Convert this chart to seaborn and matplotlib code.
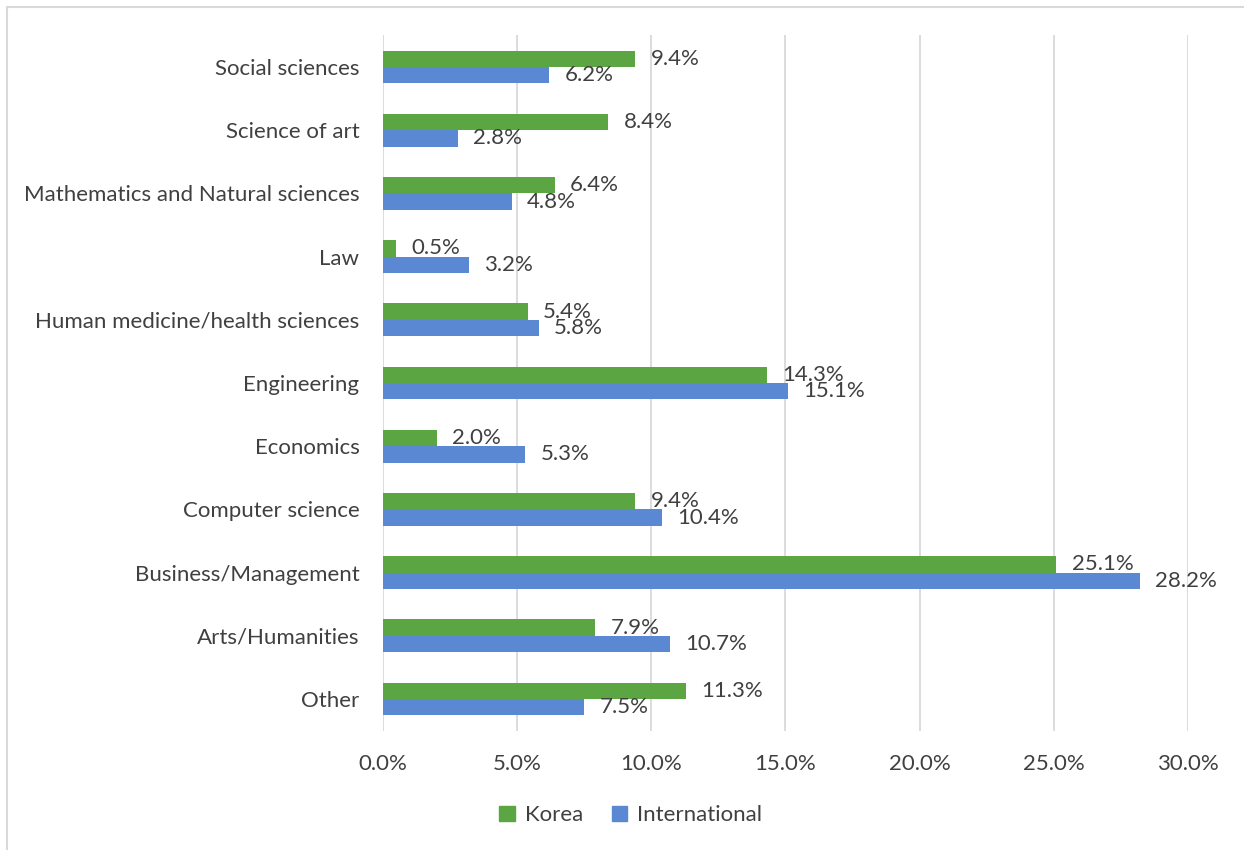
import matplotlib
matplotlib.use("Agg")
import matplotlib.pyplot as plt
from matplotlib.patches import Rectangle
from matplotlib.lines import Line2D
from matplotlib.ticker import PercentFormatter
import seaborn as sns
import pandas as pd

categories = [
    "Social sciences",
    "Science of art",
    "Mathematics and Natural sciences",
    "Law",
    "Human medicine/health sciences",
    "Engineering",
    "Economics",
    "Computer science",
    "Business/Management",
    "Arts/Humanities",
    "Other",
]
korea = [9.4, 8.4, 6.4, 0.5, 5.4, 14.3, 2.0, 9.4, 25.1, 7.9, 11.3]
international = [6.2, 2.8, 4.8, 3.2, 5.8, 15.1, 5.3, 10.4, 28.2, 10.7, 7.5]
series = ["Korea", "International"]
x_ticks = [0, 5, 10, 15, 20, 25, 30]

df = pd.DataFrame({
    "field": categories * 2,
    "share": korea + international,
    "group": [series[0]] * len(categories) + [series[1]] * len(categories),
})

sns.set_theme(style="white")
plt.rcParams["font.family"] = ["Lato", "DejaVu Sans"]
text_color = "#404040"
grid_color = "#D9D9D9"
palette = {"Korea": "#5BA543", "International": "#5B88D2"}
fs = 16

fig = plt.figure(figsize=(12.44, 8.5), dpi=100)
ax = fig.add_axes([0.3079, 0.1405, 0.6470, 0.8179])

sns.barplot(
    data=df, x="share", y="field", hue="group", hue_order=series,
    order=categories, palette=palette, orient="h", width=0.52,
    saturation=1, ax=ax, legend=False, errorbar=None, linewidth=0,
)

for container in ax.containers:
    ax.bar_label(container, labels=[f"{v:.1f}%" for v in container.datavalues],
                 padding=11, fontsize=fs, color=text_color)

ax.set_xlim(0, 30)
ax.set_xticks(x_ticks)
ax.xaxis.set_major_formatter(PercentFormatter(decimals=1))
ax.grid(axis="x", color=grid_color, linewidth=1.3)
ax.set_axisbelow(True)
for s in ax.spines.values():
    s.set_visible(False)
ax.set_xlabel("")
ax.set_ylabel("")
ax.tick_params(axis="x", length=0, pad=17, labelsize=fs, labelcolor=text_color)
ax.tick_params(axis="y", length=0, pad=17, labelsize=fs, labelcolor=text_color)

handles = [Rectangle((0, 0), 1, 1, color=palette[s]) for s in series]
fig.legend(handles, series, loc="center", bbox_to_anchor=(0.507, 0.041),
           ncol=2, frameon=False, fontsize=fs, labelcolor=text_color,
           handlelength=0.7, handleheight=0.7, handletextpad=0.45,
           columnspacing=1.3)

# chart frame: left and top edges
x0, y1 = 6.5 / 1244, 1 - 6.5 / 850
fig.add_artist(Line2D([x0, x0], [0, y1], transform=fig.transFigure,
                      color=grid_color, linewidth=1.5))
fig.add_artist(Line2D([x0, 1], [y1, y1], transform=fig.transFigure,
                      color=grid_color, linewidth=1.5))

fig.savefig("out.png", dpi=100)
